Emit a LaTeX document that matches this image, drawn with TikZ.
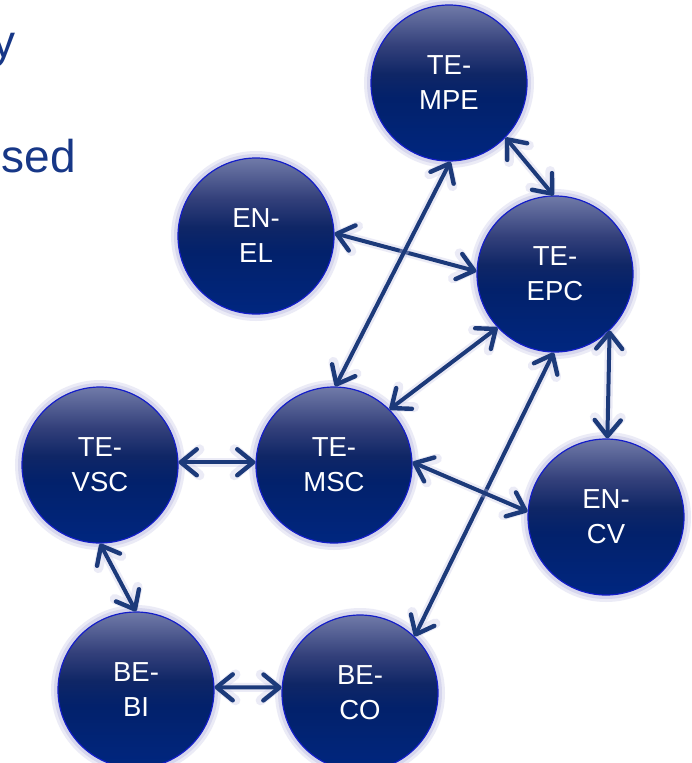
\documentclass[tikz,border=0pt]{standalone}
\usepackage{fontspec}
\setmainfont{Liberation Sans}
\usetikzlibrary{arrows.meta}
\definecolor{navyline}{RGB}{28,58,122}
\definecolor{rimblue}{RGB}{20,30,200}
\definecolor{halo}{RGB}{200,200,232}
\definecolor{slidetext}{RGB}{23,55,135}
\pgfdeclareverticalshading{orbshade}{100bp}{rgb(0bp)=(0.00,0.15,0.50); rgb(25bp)=(0.00,0.15,0.50); rgb(45bp)=(0.01,0.13,0.42); rgb(53bp)=(0.06,0.15,0.40); rgb(62bp)=(0.20,0.25,0.48); rgb(75bp)=(0.44,0.48,0.66); rgb(100bp)=(0.44,0.48,0.66)}
\tikzset{
  orb/.style={circle, minimum size=156pt, inner sep=0pt, shading=orbshade,
    draw=rimblue, line width=1.2pt, text=white, align=center,
    font=\fontsize{27.5}{35}\selectfont,
    preaction={draw=halo, line width=14pt, opacity=0.35},
    preaction={draw=halo, line width=8pt, opacity=0.6}},
  conn/.style={draw=navyline, line width=4pt,
    {Straight Barb[length=16pt,width=26pt,line width=0pt 1.1,round]}-{Straight Barb[length=16pt,width=26pt,line width=0pt 1.1,round]},
    preaction={draw=halo, line width=9pt, opacity=0.35}},
  slide/.style={text=slidetext, inner sep=0pt, font=\fontsize{46}{55}\selectfont}
}
\begin{document}
\begin{tikzpicture}[x=1pt,y=-1pt]
\clip (0,0) rectangle (691,763);
\fill[white] (0,0) rectangle (691,763);
\node[slide, anchor=base east] (ty) at (16,57) {y};
\node[slide, anchor=base east] (tsed) at (76,172) {sed};
\node[orb] (mpe) at (449,83) {TE-\\MPE};
\node[orb] (el) at (256,236) {EN-\\EL};
\node[orb] (epc) at (555,274) {TE-\\EPC};
\node[orb] (cv) at (606,517) {EN-\\CV};
\node[orb] (vsc) at (100,465) {TE-\\VSC};
\node[orb] (msc) at (334,465) {TE-\\MSC};
\node[orb] (bi) at (136,690) {BE-\\BI};
\node[orb] (co) at (360,693) {BE-\\CO};
\draw[conn] (mpe.316) -- (epc.91);
\draw[conn] (el.2) -- (epc.178);
\draw[conn] (mpe.271) -- (msc.89);
\draw[conn] (epc.223) -- (msc.45);
\draw[conn] (epc.314) -- (cv.89);
\draw[conn] (epc.269) -- (co.46);
\draw[conn] (vsc.2) -- (msc.178);
\draw[conn] (msc.2) -- (cv.176);
\draw[conn] (vsc.270) -- (bi.90);
\draw[conn] (bi.2) -- (co.176);
\end{tikzpicture}
\end{document}
